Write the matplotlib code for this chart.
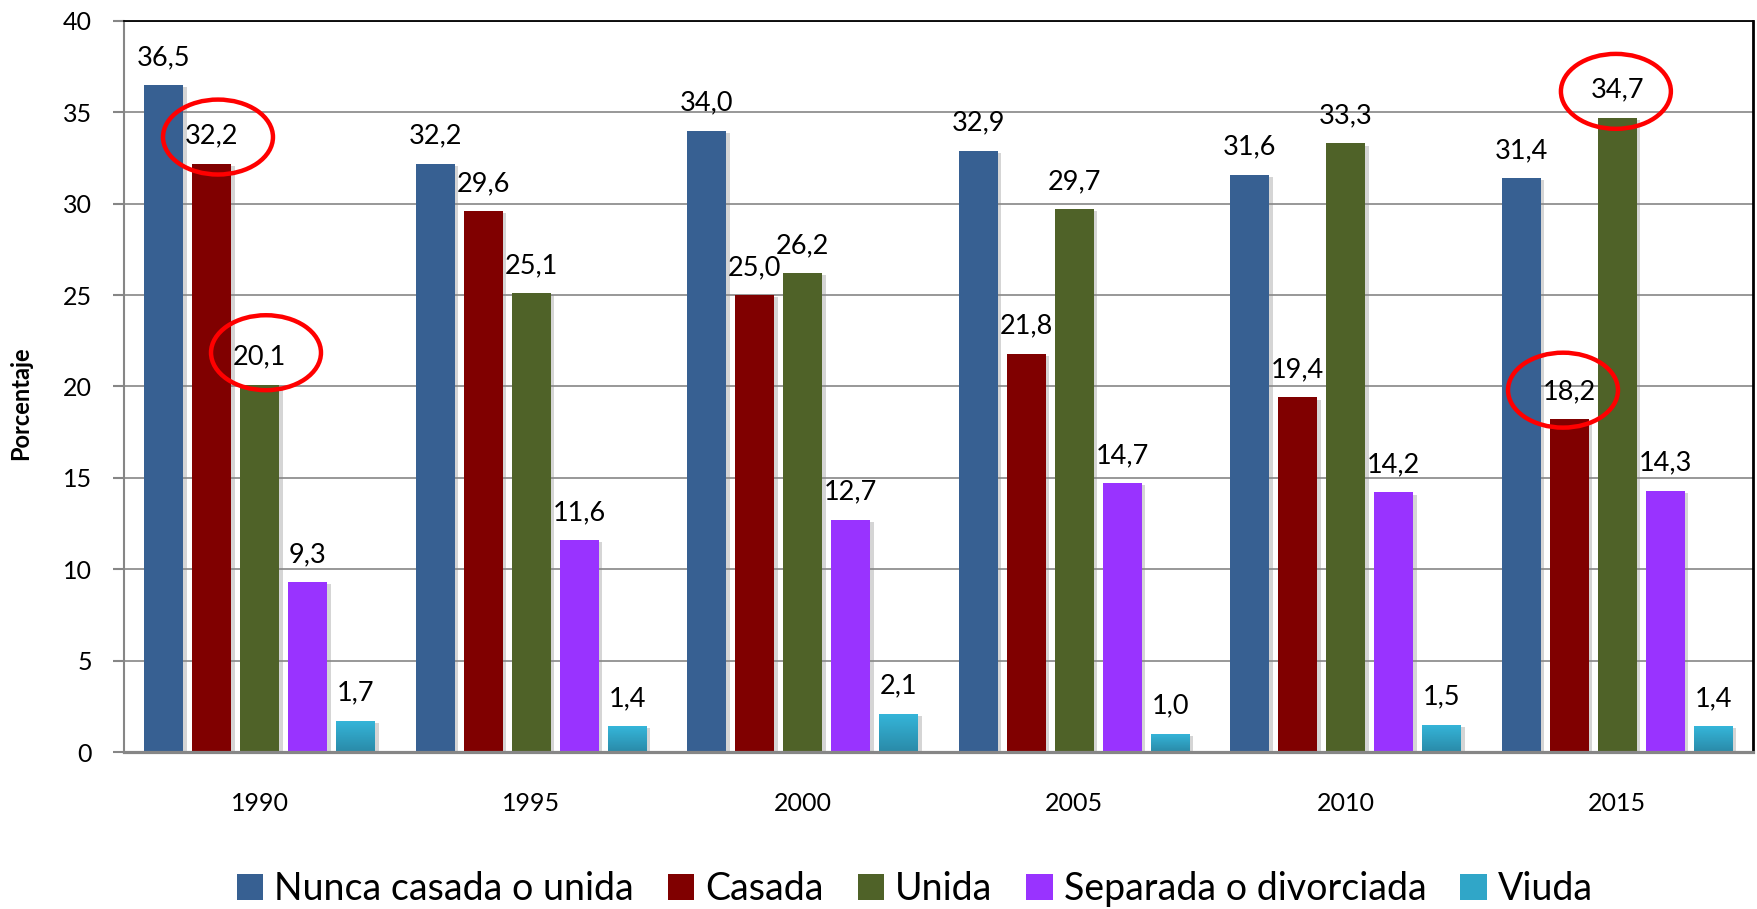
import matplotlib
matplotlib.use("Agg")
import matplotlib.pyplot as plt
import matplotlib.patheffects as pe
from matplotlib.patches import Ellipse, Patch
from matplotlib.colors import LinearSegmentedColormap
import numpy as np

plt.rcParams['font.family'] = ['Lato', 'DejaVu Sans']

years = ["1990", "1995", "2000", "2005", "2010", "2015"]
series_names = ["Nunca casada o unida", "Casada", "Unida", "Separada o divorciada", "Viuda"]
nunca = [36.5, 32.2, 34.0, 32.9, 31.6, 31.4]
casada = [32.2, 29.6, 25.0, 21.8, 19.4, 18.2]
unida = [20.1, 25.1, 26.2, 29.7, 33.3, 34.7]
separada = [9.3, 11.6, 12.7, 14.7, 14.2, 14.3]
viuda = [1.7, 1.4, 2.1, 1.0, 1.5, 1.4]
yticks = [0, 5, 10, 15, 20, 25, 30, 35, 40]

# highlighted (year index, series index)
highlights = [(0, 1), (0, 2), (5, 2), (5, 1)]

colors = ["#376092", "#800000", "#4F6228", "#9933FF", "#31B2D6"]
viuda_top, viuda_bot = "#35B6DA", "#2A8AA8"
ellipse_offsets = [(0.023, 1.45), (0.023, 1.75), (-0.005, 1.45), (-0.023, 1.6)]

all_series = [nunca, casada, unida, separada, viuda]

fig = plt.figure(figsize=(17.58, 9.09), dpi=100)
ax = fig.add_axes([124/1758, 1-752/909, (1753-124)/1758, (752-21)/909])

x = np.arange(len(years))
pitch = 0.1768
width = 0.1436
grad_cmap = LinearSegmentedColormap.from_list("g", [viuda_bot, viuda_top])

for i, (vals, col, name) in enumerate(zip(all_series, colors, series_names)):
    pos = x + (i - 2) * pitch
    bars = ax.bar(pos, vals, width=width, color=col, zorder=3,
                  path_effects=[pe.SimplePatchShadow(offset=(2.5, -1.5), shadow_rgbFace='#888888', alpha=0.35), pe.Normal()])
    if i == 4:
        for b, v in zip(bars, vals):
            grad = np.linspace(0, 1, 100).reshape(-1, 1)
            im = ax.imshow(grad, extent=[b.get_x(), b.get_x() + b.get_width(), 0, v],
                           origin='lower', cmap=grad_cmap, aspect='auto', zorder=4)
            im.set_clip_path(b)
    for p, v in zip(pos, vals):
        ax.annotate(f"{v:.1f}".replace(".", ","), (p, v), xytext=(0, 14.5),
                    textcoords='offset points', ha='center', va='baseline',
                    fontsize=19.5, color='black', zorder=6)

for (gi, si), (dx, dy) in zip(highlights, ellipse_offsets):
    cx = x[gi] + (si - 2) * pitch + dx
    cy = all_series[si][gi] + dy
    e = Ellipse((cx, cy), width=0.405, height=4.1, fill=False, edgecolor='#FF0000',
                lw=3.2, zorder=7, clip_on=False)
    ax.add_patch(e)

ax.set_xlim(-0.5, len(years) - 0.5)
ax.set_ylim(0, 40)
ax.set_yticks(yticks)
ax.set_yticklabels([str(t) for t in yticks], fontsize=18)
ax.set_xticks(x)
ax.set_xticklabels(years, fontsize=18)
ax.tick_params(axis='x', length=0, pad=29)
ax.tick_params(axis='y', length=8, width=1.5, color='#868686', pad=15)
ax.yaxis.grid(True, color='#868686', lw=1.2, zorder=1)
ax.set_axisbelow(True)

ax.spines['top'].set_color('black')
ax.spines['top'].set_linewidth(1.3)
ax.spines['right'].set_color('black')
ax.spines['right'].set_linewidth(2.0)
ax.spines['left'].set_color('#868686')
ax.spines['left'].set_linewidth(1.5)
ax.spines['bottom'].set_color('#868686')
ax.spines['bottom'].set_linewidth(2.3)
ax.spines['bottom'].set_zorder(5)

fig.text(21/1758, 1-403/909, "Porcentaje", rotation=90, fontsize=17, fontweight='bold',
         ha='center', va='center')

handles = [Patch(facecolor=c) for c in colors]
handles[4] = Patch(facecolor="#30A6C8")
fig.legend(handles, series_names, loc='center', bbox_to_anchor=(915/1758, 1-889/909),
           ncol=5, frameon=False, fontsize=27, handlelength=0.7, handleheight=0.7,
           handletextpad=0.3, columnspacing=0.9)

fig.savefig("out.png", dpi=100)
